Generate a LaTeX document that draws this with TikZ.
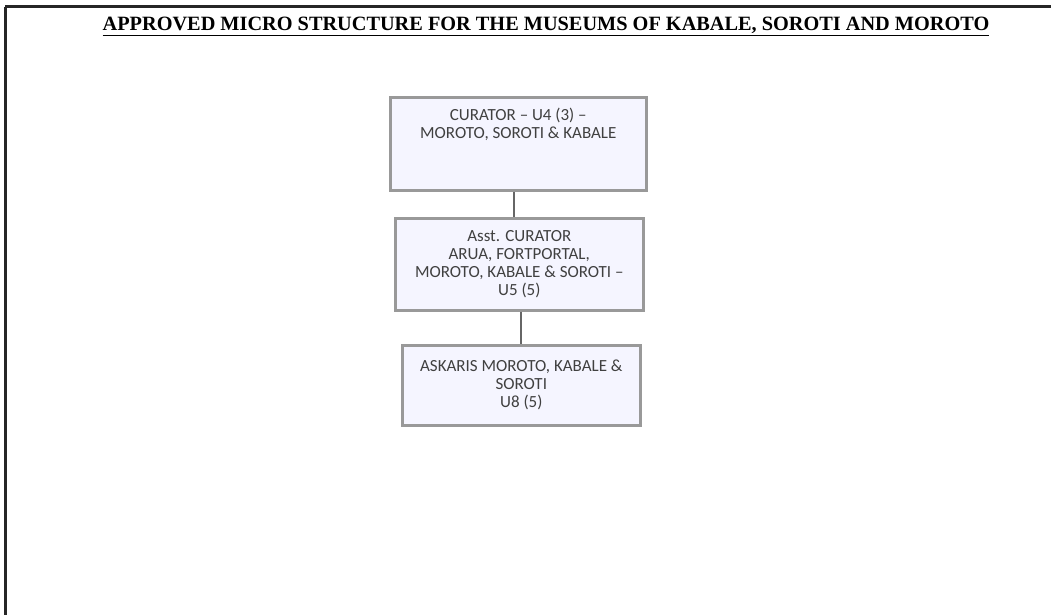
\documentclass[tikz,border=0pt]{standalone}
\usepackage{fontspec}
\setmainfont{Liberation Serif}
\newfontfamily\boxfont{Carlito}
\begin{document}
\begin{tikzpicture}[x=1pt,y=-1pt,
  boxtext/.style={font=\boxfont\fontsize{17}{18}\selectfont, text=black!75, align=center},
  post/.style={boxtext, draw=black!40, line width=2.6pt, fill=white!96!blue,
    minimum width=#1, inner sep=0pt, anchor=north west},
  link/.style={draw=black!60, line width=1.2pt}]
  \useasboundingbox (0,0) rectangle (1051,615);
  \fill[white] (0,0) rectangle (1051,615);
  % page frame: top rule and left rule
  \draw[line width=3pt, black!85] (5,7) -- (1051,7);
  \draw[line width=3pt, black!85] (5,7) -- (5,615);
  % heading
  \node[anchor=base, inner sep=0pt] (title) at (546,31)
    {\fontsize{20.3}{22}\selectfont\bfseries\underline{APPROVED MICRO STRUCTURE FOR THE MUSEUMS OF KABALE, SOROTI AND MOROTO}};
  % posts
  \node[post=256pt, minimum height=93pt] (cur) at (389,96) {};
  \node[boxtext, anchor=north] (curtext) at (cur.north) [yshift=-9pt]
    {CURATOR – U4 (3) –\\MOROTO, SOROTI \& KABALE};
  \node[post=248pt, minimum height=92pt] (asst) at (394,217)
    {Asst. CURATOR\\ARUA, FORTPORTAL,\\MOROTO, KABALE \& SOROTI –\\U5 (5)};
  \node[post=238pt, minimum height=80pt] (ask) at (401,344)
    {ASKARIS MOROTO, KABALE \&\\SOROTI\\U8 (5)};
  % reporting lines
  \draw[link] (cur.south -| 514,0) -- (asst.north -| 514,0);
  \draw[link] (asst.south -| 521,0) -- (ask.north -| 521,0);
\end{tikzpicture}
\end{document}
